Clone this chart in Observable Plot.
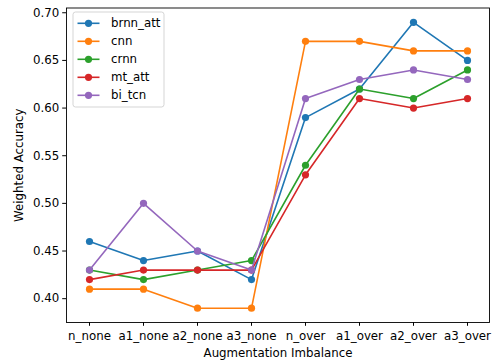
<!DOCTYPE html>
<html>
<head>
<meta charset="utf-8">
<script src="https://cdn.jsdelivr.net/npm/d3@7"></script>
<script src="https://cdn.jsdelivr.net/npm/@observablehq/plot@0.6"></script>
<style>
  body { margin: 0; background: #fff; }
  #chart { position: relative; width: 496px; height: 360px; }
  #chart svg { font-family: "DejaVu Sans", sans-serif !important; }
  #chart svg text { font-size: 11.8px !important; fill: #000; }
</style>
</head>
<body>
<div id="chart"></div>
<script>
const categories = ["n_none", "a1_none", "a2_none", "a3_none", "n_over", "a1_over", "a2_over", "a3_over"];
const seriesNames = ["brnn_att", "cnn", "crnn", "mt_att", "bi_tcn"];
const colors = ["#1f77b4", "#ff7f0e", "#2ca02c", "#d62728", "#9467bd"];
const brnn_att = [0.46, 0.44, 0.45, 0.42, 0.59, 0.62, 0.69, 0.65];
const cnn      = [0.41, 0.41, 0.39, 0.39, 0.67, 0.67, 0.66, 0.66];
const crnn     = [0.43, 0.42, 0.43, 0.44, 0.54, 0.62, 0.61, 0.64];
const mt_att   = [0.42, 0.43, 0.43, 0.43, 0.53, 0.61, 0.60, 0.61];
const bi_tcn   = [0.43, 0.50, 0.45, 0.43, 0.61, 0.63, 0.64, 0.63];
const yTicks = [0.40, 0.45, 0.50, 0.55, 0.60, 0.65, 0.70];

const allValues = [brnn_att, cnn, crnn, mt_att, bi_tcn];
const rows = seriesNames.map((name, i) =>
  categories.map((c, j) => ({series: name, cat: c, value: allValues[i][j]}))
);

const marks = [];
rows.forEach((data, i) => {
  marks.push(Plot.line(data, {x: "cat", y: "value", stroke: colors[i], strokeWidth: 1.6}));
  marks.push(Plot.dot(data, {x: "cat", y: "value", fill: colors[i], r: 3.6}));
});
marks.push(Plot.frame({stroke: "#000", strokeWidth: 0.9}));

const chart = Plot.plot({
  width: 496,
  height: 360,
  marginLeft: 66,
  marginRight: 7,
  marginTop: 7.5,
  marginBottom: 38,
  style: {fontFamily: "DejaVu Sans, sans-serif", fontSize: "11.8px", color: "#000", background: "#fff"},
  x: {type: "point", domain: categories, padding: 0.35, label: "Augmentation Imbalance", labelAnchor: "center", labelOffset: 34, labelArrow: "none", tickSize: 3.8, tickPadding: 5},
  y: {domain: [0.375, 0.705], ticks: yTicks, tickFormat: ".2f", label: "Weighted Accuracy", labelAnchor: "center", labelOffset: 52, labelArrow: "none", tickSize: 3.8, tickPadding: 3.5},
  marks
});
document.getElementById("chart").appendChild(chart);

// Legend (matplotlib style, upper left inside axes)
const svg = d3.select(chart);
const lx = 73, ly = 12, lw = 91, lh = 95, rowH = 18;
const g = svg.append("g").attr("text-anchor", "start");
g.append("rect").attr("x", lx).attr("y", ly).attr("width", lw).attr("height", lh)
  .attr("rx", 2.5).attr("fill", "#fff").attr("fill-opacity", 0.8).attr("stroke", "#d0d0d0").attr("stroke-width", 0.9);
seriesNames.forEach((name, i) => {
  const cy = ly + 11.3 + i * rowH;
  g.append("line").attr("x1", lx + 4.5).attr("x2", lx + 26.5).attr("y1", cy).attr("y2", cy)
    .attr("stroke", colors[i]).attr("stroke-width", 1.6);
  g.append("circle").attr("cx", lx + 15.5).attr("cy", cy).attr("r", 3.6).attr("fill", colors[i]);
  g.append("text").attr("x", lx + 38).attr("y", cy).attr("dy", "0.35em")
    .attr("text-anchor", "start").text(name);
});
</script>
</body>
</html>
